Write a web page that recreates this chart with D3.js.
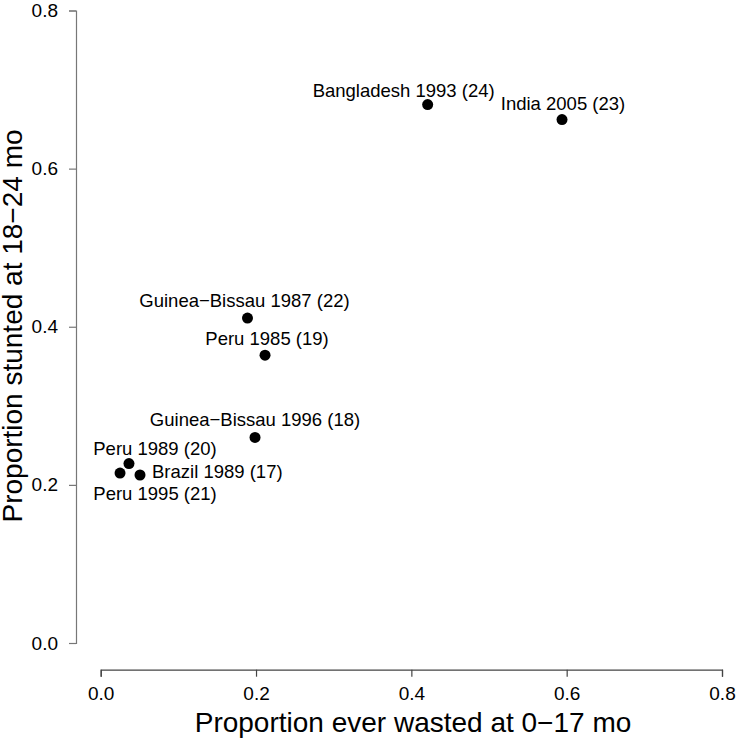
<!DOCTYPE html>
<html>
<head>
<meta charset="utf-8">
<script src="https://cdn.jsdelivr.net/npm/d3@7"></script>
<style>
  html, body { margin: 0; padding: 0; background: #fff; }
  svg { display: block; font-family: "Liberation Sans", Arial, Helvetica, sans-serif; }
</style>
</head>
<body>
<svg id="chart" width="738" height="741"></svg>
<script>
// ---- data ----
const labels = [
  "Bangladesh 1993 (24)", "India 2005 (23)", "Guinea\u2212Bissau 1987 (22)",
  "Peru 1985 (19)", "Guinea\u2212Bissau 1996 (18)", "Peru 1989 (20)",
  "Brazil 1989 (17)", "Peru 1995 (21)"
];
const wasted  = [0.421, 0.594, 0.189, 0.2116, 0.1987, 0.0364, 0.0506, 0.0249];
const stunted = [0.681, 0.662, 0.411, 0.364, 0.260, 0.227, 0.2125, 0.215];
const xTicks = [0.0, 0.2, 0.4, 0.6, 0.8];
const yTicks = [0.0, 0.2, 0.4, 0.6, 0.8];
const xTitle = "Proportion ever wasted at 0\u221217 mo";
const yTitle = "Proportion stunted at 18\u221224 mo";

// label placement (pixel offsets from point; anchor)
const labelPlace = [
  {dx: -24, dy: -7.5, anchor: "middle"},
  {dx: 1,   dy: -9.5, anchor: "middle"},
  {dx: -3,  dy: -11,  anchor: "middle"},
  {dx: 2,   dy: -10,  anchor: "middle"},
  {dx: 0,   dy: -11,  anchor: "middle"},
  {dx: 26,  dy: -8.5, anchor: "middle"},
  {dx: 12,  dy: 3,    anchor: "start"},
  {dx: 35,  dy: 27,   anchor: "middle"}
];

// ---- layout ----
const svg = d3.select("#chart");
const x = d3.scaleLinear().domain([0, 0.8]).range([100.7, 722]);
const y = d3.scaleLinear().domain([0, 0.8]).range([643, 10.5]);

// X axis
const xAxisY = 669.7;
const gx = svg.append("g").attr("transform", `translate(0,${xAxisY})`)
  .call(d3.axisBottom(x).tickValues(xTicks).tickFormat(d3.format(".1f")).tickSizeOuter(0).tickSize(7).tickPadding(10));
gx.select(".domain").attr("stroke", "#444").attr("stroke-width", 1.2);
gx.selectAll(".tick line").attr("stroke", "#444").attr("stroke-width", 1.2);
gx.selectAll(".tick text").attr("font-size", 19).attr("fill", "#000")
  .attr("font-family", "Liberation Sans, Arial, sans-serif");

// Y axis
const yAxisX = 76;
const gy = svg.append("g").attr("transform", `translate(${yAxisX},0)`)
  .call(d3.axisLeft(y).tickValues(yTicks).tickFormat(d3.format(".1f")).tickSizeOuter(0).tickSize(7).tickPadding(11));
gy.select(".domain").attr("stroke", "#777").attr("stroke-width", 1.2);
gy.selectAll(".tick line").attr("stroke", "#777").attr("stroke-width", 1.2);
gy.selectAll(".tick text").attr("font-size", 19).attr("fill", "#000")
  .attr("font-family", "Liberation Sans, Arial, sans-serif");

// Titles
svg.append("text")
  .attr("x", 413).attr("y", 732)
  .attr("text-anchor", "middle").attr("font-size", 28).attr("fill", "#000")
  .text(xTitle);
svg.append("text")
  .attr("transform", `translate(22,326) rotate(-90)`)
  .attr("text-anchor", "middle").attr("font-size", 28).attr("fill", "#000")
  .text(yTitle);

// Points
const pts = labels.map((l, i) => ({label: l, x: wasted[i], y: stunted[i], p: labelPlace[i]}));
svg.append("g").selectAll("circle").data(pts).join("circle")
  .attr("cx", d => x(d.x)).attr("cy", d => y(d.y)).attr("r", 5.5).attr("fill", "#000");

svg.append("g").selectAll("text").data(pts).join("text")
  .attr("x", d => x(d.x) + d.p.dx).attr("y", d => y(d.y) + d.p.dy)
  .attr("text-anchor", d => d.p.anchor)
  .attr("font-size", 18.5).attr("fill", "#000")
  .text(d => d.label);
</script>
</body>
</html>
